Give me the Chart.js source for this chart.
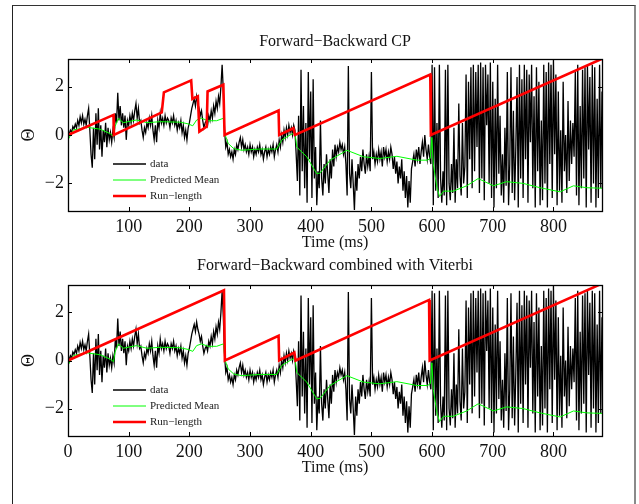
<!DOCTYPE html>
<html>
<head>
<meta charset="utf-8">
<script src="https://cdn.jsdelivr.net/npm/chart.js@4.4.1/dist/chart.umd.min.js"></script>
<style>
  html, body { margin: 0; padding: 0; background: #fff; }
  #fig { position: relative; width: 639px; height: 504px; overflow: hidden; }
  #frame {
    position: absolute; left: 12px; top: 5px; width: 621px; height: 520px;
    border-left: 1px solid #222; border-top: 1px solid #333; border-right: 2px solid #8a8a8a;
  }
  canvas { position: absolute; left: 0; }
  #cTop { top: 0; }
  #cBot { top: 252px; }
</style>
</head>
<body>
<div id="fig">
  <div id="frame"></div>
  <canvas id="cTop" width="639" height="252"></canvas>
  <canvas id="cBot" width="639" height="252"></canvas>
</div>
<script>
// ── Data ──
const SAMPLE_MS = 2;   // data samples every 2 ms, starting at 0
const thetaData = [
  -0.15, 0.05, 0.2, 0.1, 0.35, 0.25, 0.45, 0.3, 0.6, 0.4,
  0.75, 0.5, 0.8, 0.45, 0.65, 0.4, 0.8, 1.1, 0.2, -0.8,
  -1.35, 0.3, -1.0, 0.9, -0.4, 1.1, -0.6, 0.4, -0.9, 0.2,
  -0.3, 0.5, -0.5, 0.3, -0.2, 0.1, -0.3, 0.2, -0.1, 0.9,
  0.5, 1.75, 0.6, 1.2, 0.4, 0.9, 0.3, 0.8, -0.2, 0.6,
  0.4, 0.8, 0.5, 0.9, 0.6, 1.0, 1.3, 0.7, 1.1, 0.5,
  0.6, 0.2, -0.1, 0.3, 0.1, 0.5, 0.3, 0.7, 0.4, 0.8,
  0.2, -0.2, 0.4, -0.3, 0.6, 0.3, 0.9, 0.5, 0.7, 0.4,
  0.8, 0.5, 0.7, 0.6, 0.3, 0.7, 0.5, 0.8, 0.4, 0.6,
  0.2, 0.5, 0.3, 0.6, 0.1, 0.4, -0.1, 0.2, -0.2, 0.3,
  0.5, 0.8, 1.1, 1.3, 1.5, 1.2, 1.6, 1.3, 1.1, 0.8,
  1.0, 0.6, 0.3, 0.5, 0.6, 0.4, 0.8, 0.6, 1.0, 0.7,
  1.2, 0.9, 1.4, 1.1, 1.6, 1.3, 2.0, 2.9, 1.8, 0.2,
  -0.5, -0.3, -0.8, -0.6, -0.9, -0.7, -1.0, -0.6, -0.8, -0.4,
  -0.6, -0.3, -0.1, -0.5, -0.2, -0.6, -0.4, -0.7, -0.5, -0.8,
  -0.4, -0.7, -0.5, -0.9, -0.6, -0.8, -0.5, -0.7, -0.4, -0.8,
  -0.6, -1.0, -0.7, -0.5, -0.9, -0.6, -0.8, -0.5, -0.7, -0.4,
  -0.9, -0.6, -0.4, -0.7, -0.2, -0.5, 0.0, -0.3, 0.2, -0.1,
  0.3, 0.0, 0.4, 0.1, 0.3, 0.0, 0.4, 0.2, -0.8, -1.9,
  0.8, -2.5, 2.7, -1.5, 1.2, -2.2, 0.5, -2.8, 2.6, -1.0,
  1.8, -2.6, 2.3, -1.8, -0.5, -2.9, -1.5, -2.2, 0.6, -1.8,
  -2.5, -1.2, -2.0, -0.8, -1.6, -2.4, -1.0, -1.8, -0.6, -1.3,
  -0.4, -0.9, -0.5, -0.7, -0.3, -0.6, -0.4, -0.8, -0.5, -1.2,
  -2.5, 2.85, -1.6, -2.2, -1.0, -2.0, -3.1, -1.5, -2.3, -1.2,
  -1.8, -0.9, -1.5, -0.6, -1.2, -1.6, -0.8, -1.3, -0.9, -1.5,
  2.6, -1.0, -0.7, -1.2, -0.8, -1.1, -0.6, -1.0, -0.7, -1.3,
  -0.5, -0.9, -0.6, -1.1, -0.7, -1.0, -0.5, -0.8, -1.4, -0.9,
  -1.6, -1.1, -2.0, -1.3, -1.8, -1.0, -2.3, -1.5, -2.6, -1.7,
  -3.0, -1.9, -2.8, -1.4, -1.1, -0.8, -1.3, -0.6, -1.0, -0.5,
  -1.2, -0.7, -0.3, -0.9, 0.0, -0.6, -1.0, -0.4, -0.9, -1.2,
  2.9, -2.9, 2.8, -2.3, 0.5, -2.6, 2.9, -1.8, -2.8, -1.5,
  -2.5, 2.7, -2.9, 2.9, -2.0, -2.7, -1.2, -2.4, 0.3, -2.8,
  -1.0, -2.2, 1.3, -1.7, -2.5, 0.5, -2.0, -1.3, 2.5, -2.6,
  2.2, -1.0, 2.8, -2.2, 2.9, -1.5, 2.6, -0.5, 2.9, -2.4,
  3.0, -1.8, 2.8, -2.7, 2.9, 0.4, 2.5, -2.0, 3.0, -2.6,
  2.2, -3.0, 1.5, -2.2, 2.9, -1.6, 0.8, -2.5, -0.8, -2.8,
  0.3, -2.1, 2.6, -2.9, -1.2, 2.8, -2.4, 1.0, -2.7, -0.5,
  2.4, -3.0, 2.9, -1.8, 2.3, -2.6, 2.9, -1.0, 2.7, -2.8,
  2.5, -0.3, 2.9, -2.2, 1.6, -3.0, 2.8, -1.5, 2.2, -2.9,
  0.6, -2.7, 2.9, -2.0, 2.6, -3.0, 3.0, -1.2, 2.9, -2.6,
  3.1, -0.8, 2.5, -2.9, 1.8, -2.3, 0.2, -2.8, 2.2, -1.5,
  0.0, -2.4, 1.4, -1.9, 0.6, -1.2, 0.5, -0.9, 2.6, -2.5,
  2.9, -2.9, 1.2, -2.2, 2.7, -1.8, 2.8, -3.0, 2.9, -0.6,
  2.4, -2.8, 2.9, -2.0, 2.8, -3.0, 1.5, -2.6, 2.9, -2.2,
  1.8
];

// predicted mean (same in both panels): time / value
const meanT = [0, 9, 31, 53, 70, 75, 77.5, 83, 91, 113, 130, 152, 185, 198, 205.6, 212, 220, 231, 245, 256,
  259, 264, 273, 286, 317, 344, 352, 366, 374, 377, 393.5, 410, 415.6, 432, 459.5, 487, 514, 542, 575,
  592.5, 597, 599.6, 602, 608, 612.3, 619, 635, 657, 676, 701, 723, 750, 778, 811, 833, 855, 880];
const meanV = [-0.2, 0.21, 0.32, 0.24, 0.05, -0.05, 0.35, 0.69, 0.51, 0.62, 0.51, 0.55, 0.53, 0.46, 0.38, 0.62, 0.69, 0.59, 0.59, 0.69,
  0.0, -0.35, -0.56, -0.63, -0.58, -0.58, -0.21, 0.0, 0.1, -0.5, -0.9, -1.6, -1.57, -1.04, -0.63, -0.9, -0.97, -0.88, -1.04,
  -1.04, -0.97, -0.1, -1.2, -2.18, -2.54, -2.32, -2.32, -2.1, -1.8, -2.1, -1.93, -2.0, -2.18, -2.35, -2.1, -2.18, -2.2];

// run-length, forward-backward
const runTopT = [0, 75, 75.5, 154.5, 158, 203, 205, 214, 216.5, 228.6, 230, 256, 258, 347, 348, 371.5, 374, 597, 598, 880];
const runTopV = [0, 0.83, 0, 0.93, 1.76, 2.26, 1.49, 1.6, 0.14, 0.35, 1.8, 2.08, 0, 1.01, 0, 0.28, 0, 2.5, 0, 3.15];
// run-length, forward-backward + viterbi
const runBotT = [0, 257, 258.5, 347, 348, 373, 375, 595, 596, 880];
const runBotV = [0, 2.92, 0, 1.03, 0, 0.33, 0, 2.52, 0, 3.2];

const xTicksTop = [100, 200, 300, 400, 500, 600, 700, 800];
const xTicksBot = [0, 100, 200, 300, 400, 500, 600, 700, 800];
const yTicks = [-2, 0, 2];
const legendLabels = ['data', 'Predicted Mean', 'Run\u2212length'];

const SERIF = '"Liberation Serif", "DejaVu Serif", serif';
const pts = (xs, ys) => xs.map((x, i) => ({ x, y: ys[i] }));
const minusFmt = v => v < 0 ? '\u2212' + Math.abs(v) : String(v);

// draws matlab-ish box, inward ticks, title, axis labels, legend
const matlabFrame = {
    id: 'matlabFrame',
    afterDraw(chart, args, o) {
        const { ctx, chartArea: a, scales: { x, y } } = chart;
        ctx.save();
        ctx.strokeStyle = '#000';
        ctx.lineWidth = 1;
        ctx.beginPath();
        x.ticks.forEach(t => {
            const px = Math.round(x.getPixelForValue(t.value)) + 0.5;
            ctx.moveTo(px, a.bottom); ctx.lineTo(px, a.bottom - 4);
            ctx.moveTo(px, a.top); ctx.lineTo(px, a.top + 4);
        });
        y.ticks.forEach(t => {
            const py = Math.round(y.getPixelForValue(t.value)) + 0.5;
            ctx.moveTo(a.left, py); ctx.lineTo(a.left + 4, py);
            ctx.moveTo(a.right, py); ctx.lineTo(a.right - 4, py);
        });
        ctx.stroke();
        ctx.lineWidth = 1.3;
        ctx.strokeRect(Math.round(a.left) + 0.5, Math.round(a.top) + 0.5, Math.round(a.width), Math.round(a.height));

        const cx = (a.left + a.right) / 2;
        ctx.fillStyle = '#111';
        ctx.textAlign = 'center';
        ctx.textBaseline = 'middle';
        ctx.font = '16px ' + SERIF;
        ctx.fillText(o.title, cx, a.top - o.titleGap);
        ctx.fillText('Time (ms)', cx, a.bottom + 32);
        ctx.save();
        ctx.translate(29, (a.top + a.bottom) / 2);
        ctx.rotate(-Math.PI / 2);
        ctx.font = '18px ' + SERIF;
        ctx.fillText('\u0398', 0, 0);
        ctx.restore();

        // legend, no box
        ctx.font = '11px ' + SERIF;
        ctx.textAlign = 'left';
        const rows = [105, 121, 137];
        chart.data.datasets.forEach((ds, i) => {
            const ly = a.top + rows[i];
            ctx.strokeStyle = ds.borderColor;
            ctx.lineWidth = ds.borderWidth;
            ctx.beginPath();
            ctx.moveTo(a.left + 45, ly); ctx.lineTo(a.left + 78, ly);
            ctx.stroke();
            ctx.fillStyle = '#222';
            ctx.fillText(legendLabels[i], a.left + 82, ly);
        });
        ctx.restore();
    }
};

function makePanel(id, runT, runV, xTicks, title, padTop, xAxisH, titleGap) {
    return new Chart(document.getElementById(id), {
        type: 'line',
        data: {
            datasets: [
                { data: thetaData.map((v, i) => ({ x: i * SAMPLE_MS, y: v })),
                  borderColor: '#000', borderWidth: 1.3, order: 3 },
                { data: pts(meanT, meanV), borderColor: '#00ff00', borderWidth: 1, order: 2 },
                { data: pts(runT, runV), borderColor: '#ff0000', borderWidth: 2.6, order: 1 },
            ],
        },
        options: {
            responsive: false, animation: false,
            parsing: false,
            elements: { point: { radius: 0 }, line: { tension: 0 } },
            layout: { padding: { left: 0, right: 37, top: padTop, bottom: 0 } },
            plugins: {
                legend: { display: false },
                tooltip: { enabled: false },
                matlabFrame: { title, titleGap },
            },
            scales: {
                x: {
                    type: 'linear', min: 0, max: 880,
                    grid: { display: false, drawTicks: false },
                    border: { display: false },
                    afterBuildTicks: s => { s.ticks = xTicks.map(v => ({ value: v })); },
                    afterFit: s => { s.height = xAxisH; },
                    ticks: { font: { family: SERIF, size: 18 }, color: '#111', padding: 5,
                             maxRotation: 0, autoSkip: false },
                },
                y: {
                    min: -Math.PI, max: Math.PI,
                    grid: { display: false, drawTicks: false },
                    border: { display: false },
                    afterBuildTicks: s => { s.ticks = yTicks.map(v => ({ value: v })); },
                    afterFit: s => { s.width = 68; },
                    ticks: { font: { family: SERIF, size: 18 }, color: '#111', padding: 4,
                             callback: minusFmt },
                },
            },
        },
        plugins: [matlabFrame],
    });
}

makePanel('cTop', runTopT, runTopV, xTicksTop, 'Forward\u2212Backward CP', 59, 41, 17);
makePanel('cBot', runBotT, runBotV, xTicksBot, 'Forward\u2212Backward combined with Viterbi', 33, 68, 19);
</script>
</body>
</html>
